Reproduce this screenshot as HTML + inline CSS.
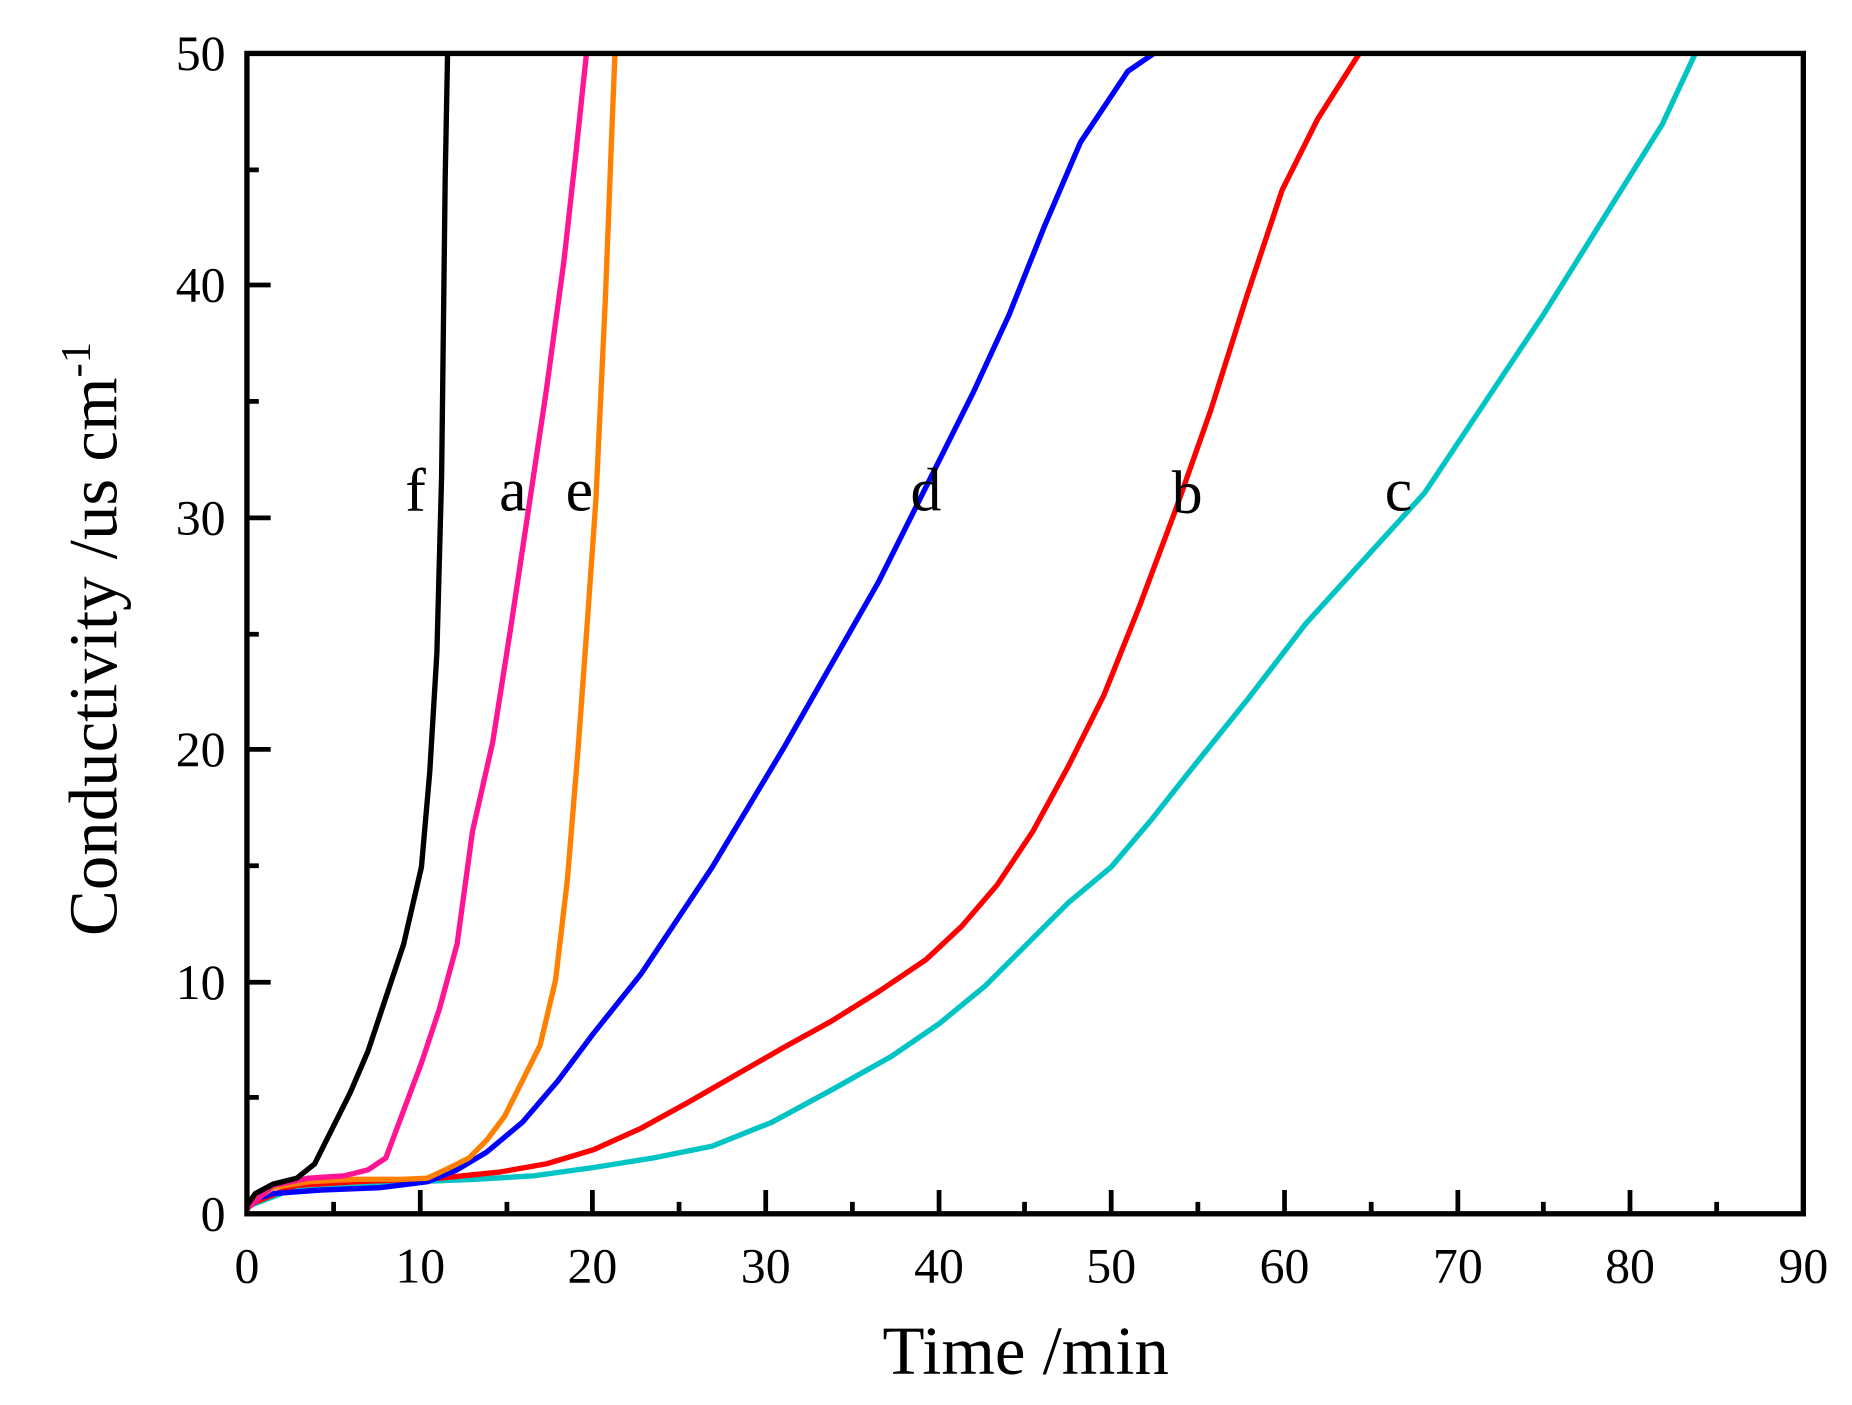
<!DOCTYPE html>
<html><head><style>html,body{margin:0;padding:0;background:#fff}svg{display:block}</style></head>
<body>
<svg width="1852" height="1405" viewBox="0 0 1560 1183" preserveAspectRatio="none" xmlns="http://www.w3.org/2000/svg" font-family="Liberation Serif, serif">
<g fill="none" stroke-width="4.5" stroke-linejoin="round">
<polyline stroke="#00c4c4" points="208,1016 250,1000 300,997 350,995 400,993 450,990 500,983 550,975 600,965 650,945 700,918 750,890 791,862 830,830 870,790 900,760 936,730 970,690 1000,652 1050,590 1100,525 1150,470 1200,415 1250,340 1300,265 1350,185 1400,105 1428,45"/>
<polyline stroke="#ff0000" points="208,1015 250,998 300,995 370,992 420,987 460,980 500,968 540,950 580,928 620,905 660,882 700,860 740,835 780,808 810,780 840,745 870,700 900,645 930,585 960,510 990,430 1020,345 1050,250 1080,160 1110,100 1145,45"/>
<polyline stroke="#0000ff" points="208,1012 230,1005 270,1002 320,1000 360,995 385,985 410,970 440,945 470,910 500,870 540,820 570,775 600,730 630,680 660,630 700,560 740,490 770,430 795,380 820,330 850,265 880,190 910,120 950,60 972,45"/>
<polyline stroke="#ff8000" points="208,1015 230,1000 260,995 300,993 340,993 360,992 375,985 395,975 410,960 425,940 440,910 455,880 468,825 478,740 487,630 495,520 502,420 510,250 515,120 518,45"/>
<polyline stroke="#ff1493" points="208,1018 230,998 260,992 290,990 310,985 325,975 340,935 355,895 370,850 385,795 398,700 415,625 430,530 445,430 460,330 475,220 485,130 494,45"/>
<polyline stroke="#000" points="208,1015 215,1005 230,997 250,992 265,980 280,950 295,920 310,885 325,840 340,795 355,730 362,650 368,550 372,400 375,150 377,45"/>
</g>
<rect x="208" y="45" width="1311" height="977" fill="none" stroke="#000" stroke-width="4.5"/>
<g stroke="#000" stroke-width="4">
<path d="M208,1022v-20M354,1022v-20M499,1022v-20M645,1022v-20M791,1022v-20M936,1022v-20M1082,1022v-20M1228,1022v-20M1373,1022v-20"/>
<path d="M281,1022v-10M427,1022v-10M572,1022v-10M718,1022v-10M863,1022v-10M1009,1022v-10M1155,1022v-10M1300,1022v-10M1446,1022v-10"/>
<path d="M208,827h20M208,631h20M208,436h20M208,240h20M208,924h10M208,729h10M208,534h10M208,338h10M208,143h10"/>
</g>
<g font-size="42" text-anchor="middle">
<text x="208" y="1080">0</text><text x="354" y="1080">10</text><text x="499" y="1080">20</text><text x="645" y="1080">30</text><text x="791" y="1080">40</text><text x="936" y="1080">50</text><text x="1082" y="1080">60</text><text x="1228" y="1080">70</text><text x="1373" y="1080">80</text><text x="1519" y="1080">90</text>
</g>
<g font-size="42" text-anchor="end">
<text x="190" y="1036">0</text><text x="190" y="841">10</text><text x="190" y="645">20</text><text x="190" y="450">30</text><text x="190" y="254">40</text><text x="190" y="59">50</text>
</g>
<text x="864" y="1157" font-size="58" text-anchor="middle">Time /min</text>
<text transform="translate(98,538) rotate(-90)" font-size="58" text-anchor="middle">Conductivity /us cm<tspan font-size="36" dy="-22">-1</tspan></text>
<g font-size="52" text-anchor="middle">
<text x="350" y="430">f</text><text x="432" y="430">a</text><text x="488" y="430">e</text><text x="780" y="430">d</text><text x="1000" y="432">b</text><text x="1178" y="430">c</text>
</g>
</svg>
</body></html>
